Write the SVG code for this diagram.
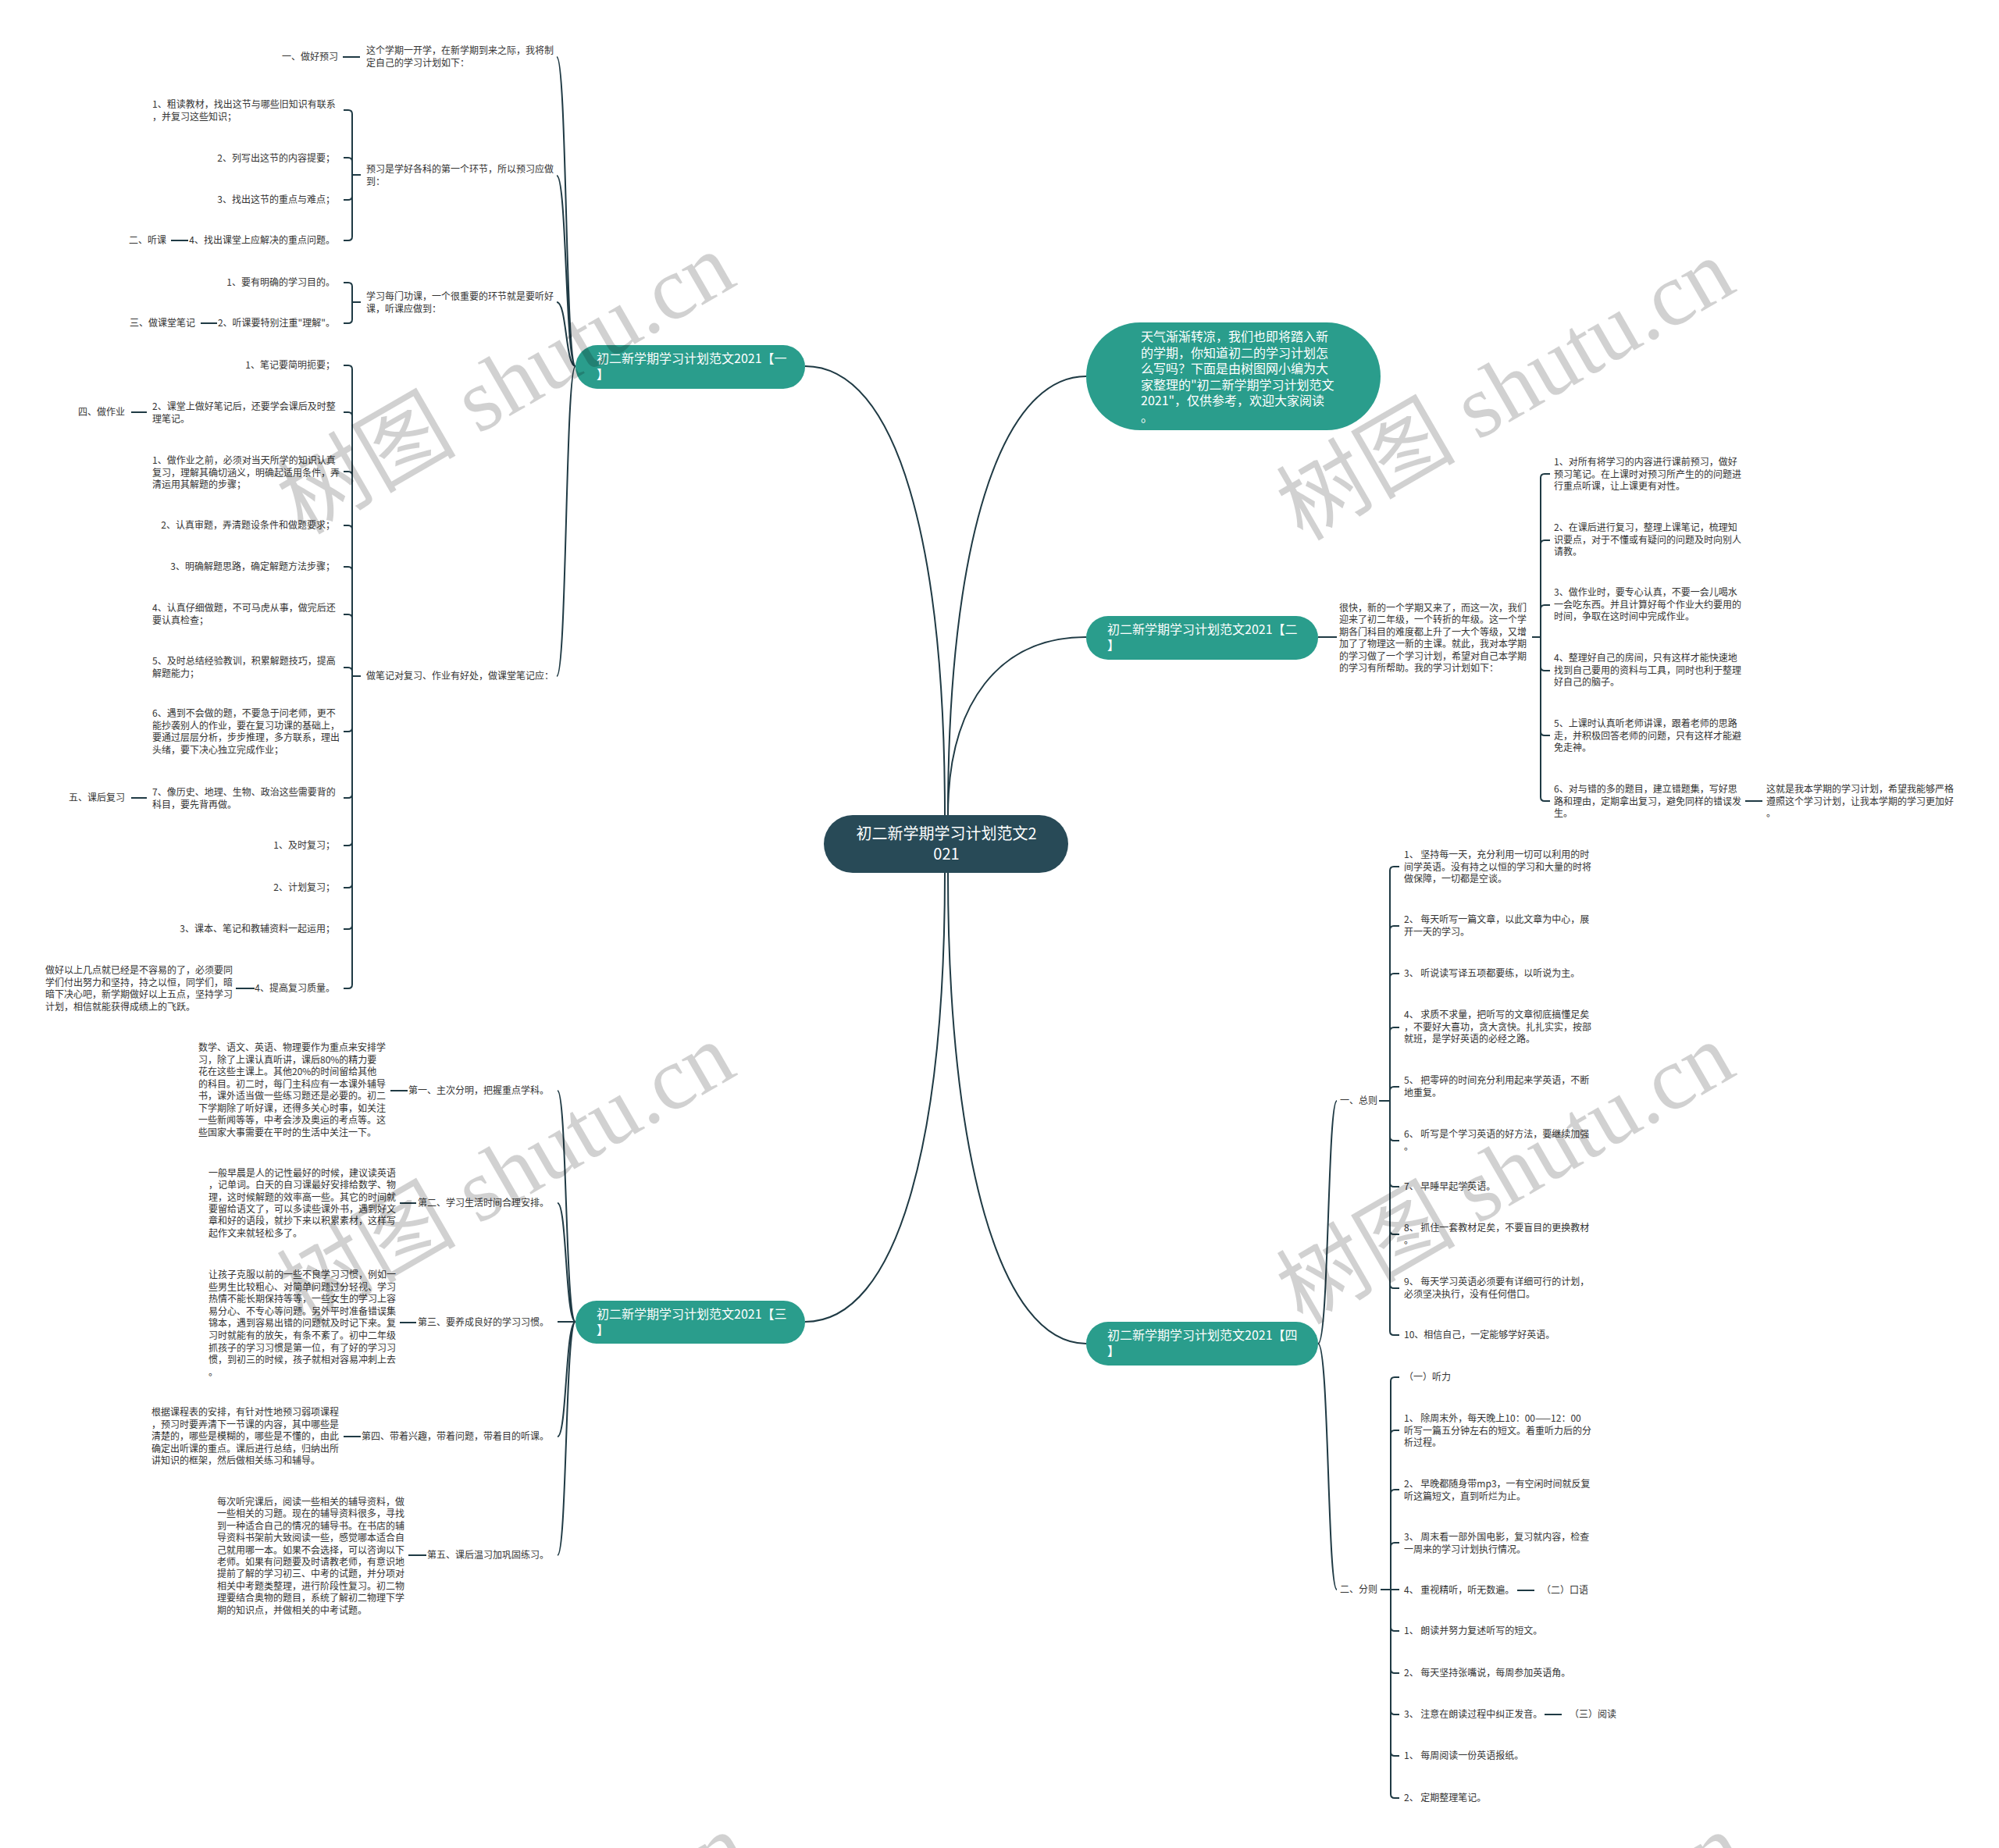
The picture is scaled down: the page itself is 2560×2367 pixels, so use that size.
<svg xmlns="http://www.w3.org/2000/svg" width="2560" height="2367" viewBox="0 0 2560 2367">
<style>
.t{font-family:"Noto Sans CJK SC","Noto Sans",sans-serif;font-size:12px;fill:#333}
.e{text-anchor:end}
.b{font-family:"Noto Sans CJK SC","Noto Sans",sans-serif;font-size:16px;fill:#fff}
.c{font-family:"Noto Sans CJK SC","Noto Sans",sans-serif;font-size:20px;fill:#fff;text-anchor:middle}
.ln{fill:none;stroke:#1f3a44;stroke-width:2}
.br{fill:#2a9d8c}
.wm{font-family:"Liberation Serif","Noto Sans CJK SC",serif;font-size:115px;fill:#000;fill-opacity:0.18}
</style>
<rect width="2560" height="2367" fill="#fff"/>
<g id="connectors">
<path class="ln" d="M1210,1044C1210,700 1150,469 1031,469"/>
<path class="ln" d="M1214,1044C1214,700 1280,482 1391,482"/>
<path class="ln" d="M1214,1044C1214,900 1280,816 1391,816"/>
<path class="ln" d="M1210,1118C1210,1460 1150,1693 1031,1693"/>
<path class="ln" d="M1214,1118C1214,1480 1280,1721 1391,1721"/>
<path class="ln" d="M737,469C724,469 726,73 713,73M737,469C724,469 726,225 713,225M737,469C724,469 726,387 713,387M737,469C724,469 726,866 713,866"/>
<path class="ln" d="M462,224H451V146Q451,141 446,141H440M462,224H451V207Q451,202 446,202H440M462,224H451V251Q451,256 446,256H440M462,224H451V303Q451,308 446,308H440"/>
<path class="ln" d="M462,387H451V367Q451,362 446,362H440M462,387H451V409Q451,414 446,414H440"/>
<path class="ln" d="M462,866H451V473Q451,468 446,468H440M462,866H451V533Q451,528 446,528H440M462,866H451V609Q451,604 446,604H440M462,866H451V678Q451,673 446,673H440M462,866H451V731Q451,726 446,726H440M462,866H451V792Q451,787 446,787H440M462,866H451V860Q451,855 446,855H440M462,866H451V932Q451,937 446,937H440M462,866H451V1017Q451,1022 446,1022H440M462,866H451V1078Q451,1083 446,1083H440M462,866H451V1132Q451,1137 446,1137H440M462,866H451V1185Q451,1190 446,1190H440M462,866H451V1261Q451,1266 446,1266H440"/>
<path class="ln" d="M439,73H461M219,308H241M257,414H278M168,528H188M168,1022H188M302,1266H326"/>
<path class="ln" d="M737,1693C724,1693 726,1397 714,1397M737,1693C724,1693 726,1541 714,1541M737,1693H714M737,1693C724,1693 726,1840 714,1840M737,1693C724,1693 726,1992 714,1992"/>
<path class="ln" d="M500,1397H522M512,1541H533M512,1694H533M440,1840H462M523,1992H546"/>
<path class="ln" d="M1688,816H1712"/>
<path class="ln" d="M1962,816H1973V612Q1973,607 1978,607H1985M1962,816H1973V697Q1973,692 1978,692H1985M1962,816H1973V780Q1973,775 1978,775H1985M1962,816H1973V854Q1973,859 1978,859H1985M1962,816H1973V937Q1973,942 1978,942H1985M1962,816H1973V1021Q1973,1026 1978,1026H1985"/>
<path class="ln" d="M2235,1026H2257"/>
<path class="ln" d="M1688,1721C1702,1721 1700,1410 1712,1410M1688,1721C1702,1721 1700,2036 1712,2036"/>
<path class="ln" d="M1766,1410H1780V1115Q1780,1110 1785,1110H1792M1766,1410H1780V1191Q1780,1186 1785,1186H1792M1766,1410H1780V1252Q1780,1247 1785,1247H1792M1766,1410H1780V1321Q1780,1316 1785,1316H1792M1766,1410H1780V1397Q1780,1392 1785,1392H1792M1766,1410H1780V1456Q1780,1461 1785,1461H1792M1766,1410H1780V1515Q1780,1520 1785,1520H1792M1766,1410H1780V1576Q1780,1581 1785,1581H1792M1766,1410H1780V1645Q1780,1650 1785,1650H1792M1766,1410H1780V1705Q1780,1710 1785,1710H1792"/>
<path class="ln" d="M1768,2036H1781V1769Q1781,1764 1786,1764H1792M1768,2036H1781V1837Q1781,1832 1786,1832H1792M1768,2036H1781V1913Q1781,1908 1786,1908H1792M1768,2036H1781V1981Q1781,1976 1786,1976H1792M1768,2036H1792M1768,2036H1781V2084Q1781,2089 1786,2089H1792M1768,2036H1781V2138Q1781,2143 1786,2143H1792M1768,2036H1781V2191Q1781,2196 1786,2196H1792M1768,2036H1781V2244Q1781,2249 1786,2249H1792M1768,2036H1781V2298Q1781,2303 1786,2303H1792"/>
<path class="ln" d="M1943,2037H1965M1978,2196H2000"/>
</g>
<g id="center">
<rect x="1055" y="1044" width="313" height="74" rx="37" fill="#284a57"/>
<text class="c" x="1212" y="1075">初二新学期学习计划范文2</text>
<text class="c" x="1212" y="1101">021</text>
</g>
<g id="intro">
<rect class="br" x="1391" y="413" width="377" height="138" rx="69"/>
<text class="b" x="1461" y="437">天气渐渐转凉，我们也即将踏入新<tspan x="1461" dy="20.6">的学期，你知道初二的学习计划怎</tspan><tspan x="1461" dy="20.6">么写吗？下面是由树图网小编为大</tspan><tspan x="1461" dy="20.6">家整理的"初二新学期学习计划范文</tspan><tspan x="1461" dy="20.6">2021"，仅供参考，欢迎大家阅读</tspan><tspan x="1461" dy="20.6">。</tspan></text>
</g>
<g id="branch1">
<rect class="br" x="737" y="442" width="294" height="56" rx="28"/>
<text class="b" x="764" y="465">初二新学期学习计划范文2021【一<tspan x="764" dy="20">】</tspan></text>
</g>
<g id="branch2">
<rect class="br" x="1391" y="789" width="297" height="56" rx="28"/>
<text class="b" x="1418" y="812">初二新学期学习计划范文2021【二<tspan x="1418" dy="20">】</tspan></text>
</g>
<g id="branch3">
<rect class="br" x="737" y="1666" width="294" height="55" rx="27.5"/>
<text class="b" x="764" y="1689">初二新学期学习计划范文2021【三<tspan x="764" dy="20">】</tspan></text>
</g>
<g id="branch4">
<rect class="br" x="1391" y="1693" width="297" height="56" rx="28"/>
<text class="b" x="1418" y="1716">初二新学期学习计划范文2021【四<tspan x="1418" dy="20">】</tspan></text>
</g>
<g id="b1-texts">
<text class="t" x="469" y="69">这个学期一开学，在新学期到来之际，我将制<tspan x="469" dy="16">定自己的学习计划如下：</tspan></text>
<text class="t e" x="433" y="77">一、做好预习</text>
<text class="t" x="469" y="221">预习是学好各科的第一个环节，所以预习应做<tspan x="469" dy="16">到：</tspan></text>
<text class="t" x="195" y="138">1、粗读教材，找出这节与哪些旧知识有联系<tspan x="195" dy="15.5">，并复习这些知识；</tspan></text>
<text class="t e" x="429" y="207">2、列写出这节的内容提要；</text>
<text class="t e" x="429" y="260">3、找出这节的重点与难点；</text>
<text class="t e" x="429" y="312">4、找出课堂上应解决的重点问题。</text>
<text class="t e" x="213" y="312">二、听课</text>
<text class="t" x="469" y="384">学习每门功课，一个很重要的环节就是要听好<tspan x="469" dy="15.5">课，听课应做到：</tspan></text>
<text class="t e" x="429" y="366">1、要有明确的学习目的。</text>
<text class="t e" x="429" y="418">2、听课要特别注重"理解"。</text>
<text class="t e" x="250" y="418">三、做课堂笔记</text>
<text class="t" x="469" y="870">做笔记对复习、作业有好处，做课堂笔记应：</text>
<text class="t e" x="429" y="472">1、笔记要简明扼要；</text>
<text class="t" x="195" y="525">2、课堂上做好笔记后，还要学会课后及时整<tspan x="195" dy="15.5">理笔记。</tspan></text>
<text class="t e" x="160" y="532">四、做作业</text>
<text class="t" x="195" y="594">1、做作业之前，必须对当天所学的知识认真<tspan x="195" dy="15.5">复习，理解其确切涵义，明确起适用条件，弄</tspan><tspan x="195" dy="15.5">清运用其解题的步骤；</tspan></text>
<text class="t e" x="429" y="677">2、认真审题，弄清题设条件和做题要求；</text>
<text class="t e" x="429" y="730">3、明确解题思路，确定解题方法步骤；</text>
<text class="t" x="195" y="783">4、认真仔细做题，不可马虎从事，做完后还<tspan x="195" dy="15.5">要认真检查；</tspan></text>
<text class="t" x="195" y="851">5、及时总结经验教训，积累解题技巧，提高<tspan x="195" dy="15.5">解题能力；</tspan></text>
<text class="t" x="195" y="918">6、遇到不会做的题，不要急于问老师，更不<tspan x="195" dy="15.5">能抄袭别人的作业，要在复习功课的基础上，</tspan><tspan x="195" dy="15.5">要通过层层分析，步步推理，多方联系，理出</tspan><tspan x="195" dy="15.5">头绪，要下决心独立完成作业；</tspan></text>
<text class="t" x="195" y="1019">7、像历史、地理、生物、政治这些需要背的<tspan x="195" dy="15.5">科目，要先背再做。</tspan></text>
<text class="t e" x="160" y="1026">五、课后复习</text>
<text class="t e" x="429" y="1087">1、及时复习；</text>
<text class="t e" x="429" y="1141">2、计划复习；</text>
<text class="t e" x="429" y="1194">3、课本、笔记和教辅资料一起运用；</text>
<text class="t e" x="429" y="1270">4、提高复习质量。</text>
<text class="t" x="58" y="1247">做好以上几点就已经是不容易的了，必须要同<tspan x="58" dy="15.5">学们付出努力和坚持，持之以恒，同学们，暗</tspan><tspan x="58" dy="15.5">暗下决心吧，新学期做好以上五点，坚持学习</tspan><tspan x="58" dy="15.5">计划，相信就能获得成绩上的飞跃。</tspan></text>
</g>
<g id="b3-texts">
<text class="t e" x="703" y="1401">第一、主次分明，把握重点学科。</text>
<text class="t" x="254" y="1346">数学、语文、英语、物理要作为重点来安排学<tspan x="254" dy="15.5">习，除了上课认真听讲，课后80%的精力要</tspan><tspan x="254" dy="15.5">花在这些主课上。其他20%的时间留给其他</tspan><tspan x="254" dy="15.5">的科目。初二时，每门主科应有一本课外辅导</tspan><tspan x="254" dy="15.5">书，课外适当做一些练习题还是必要的。初二</tspan><tspan x="254" dy="15.5">下学期除了听好课，还得多关心时事，如关注</tspan><tspan x="254" dy="15.5">一些新闻等等，中考会涉及奥运的考点等。这</tspan><tspan x="254" dy="15.5">些国家大事需要在平时的生活中关注一下。</tspan></text>
<text class="t e" x="703" y="1545">第二、学习生活时间合理安排。</text>
<text class="t" x="267" y="1507">一般早晨是人的记性最好的时候，建议读英语<tspan x="267" dy="15.3">，记单词。白天的自习课最好安排给数学、物</tspan><tspan x="267" dy="15.3">理，这时候解题的效率高一些。其它的时间就</tspan><tspan x="267" dy="15.3">要留给语文了，可以多读些课外书，遇到好文</tspan><tspan x="267" dy="15.3">章和好的语段，就抄下来以积累素材，这样写</tspan><tspan x="267" dy="15.3">起作文来就轻松多了。</tspan></text>
<text class="t e" x="703" y="1698">第三、要养成良好的学习习惯。</text>
<text class="t" x="267" y="1637">让孩子克服以前的一些不良学习习惯，例如一<tspan x="267" dy="15.6">些男生比较粗心、对简单问题过分轻视、学习</tspan><tspan x="267" dy="15.6">热情不能长期保持等等，一些女生的学习上容</tspan><tspan x="267" dy="15.6">易分心、不专心等问题。另外平时准备错误集</tspan><tspan x="267" dy="15.6">锦本，遇到容易出错的问题就及时记下来。复</tspan><tspan x="267" dy="15.6">习时就能有的放矢，有条不紊了。初中二年级</tspan><tspan x="267" dy="15.6">抓孩子的学习习惯是第一位，有了好的学习习</tspan><tspan x="267" dy="15.6">惯，到初三的时候，孩子就相对容易冲刺上去</tspan><tspan x="267" dy="15.6">。</tspan></text>
<text class="t e" x="703" y="1844">第四、带着兴趣，带着问题，带着目的听课。</text>
<text class="t" x="194" y="1813">根据课程表的安排，有针对性地预习弱项课程<tspan x="194" dy="15.5">，预习时要弄清下一节课的内容，其中哪些是</tspan><tspan x="194" dy="15.5">清楚的，哪些是模糊的，哪些是不懂的，由此</tspan><tspan x="194" dy="15.5">确定出听课的重点。课后进行总结，归纳出所</tspan><tspan x="194" dy="15.5">讲知识的框架，然后做相关练习和辅导。</tspan></text>
<text class="t e" x="703" y="1996">第五、课后温习加巩固练习。</text>
<text class="t" x="278" y="1928">每次听完课后，阅读一些相关的辅导资料，做<tspan x="278" dy="15.4">一些相关的习题。现在的辅导资料很多，寻找</tspan><tspan x="278" dy="15.4">到一种适合自己的情况的辅导书。在书店的辅</tspan><tspan x="278" dy="15.4">导资料书架前大致阅读一些，感觉哪本适合自</tspan><tspan x="278" dy="15.4">己就用哪一本。如果不会选择，可以咨询以下</tspan><tspan x="278" dy="15.4">老师。如果有问题要及时请教老师，有意识地</tspan><tspan x="278" dy="15.4">提前了解的学习初三、中考的试题，并分项对</tspan><tspan x="278" dy="15.4">相关中考题类整理，进行阶段性复习。初二物</tspan><tspan x="278" dy="15.4">理要结合奥物的题目，系统了解初二物理下学</tspan><tspan x="278" dy="15.4">期的知识点，并做相关的中考试题。</tspan></text>
</g>
<g id="b2-texts">
<text class="t" x="1715" y="783">很快，新的一个学期又来了，而这一次，我们<tspan x="1715" dy="15.4">迎来了初二年级，一个转折的年级。这一个学</tspan><tspan x="1715" dy="15.4">期各门科目的难度都上升了一大个等级，又增</tspan><tspan x="1715" dy="15.4">加了了物理这一新的主课。就此，我对本学期</tspan><tspan x="1715" dy="15.4">的学习做了一个学习计划，希望对自己本学期</tspan><tspan x="1715" dy="15.4">的学习有所帮助。我的学习计划如下：</tspan></text>
<text class="t" x="1990" y="596">1、对所有将学习的内容进行课前预习，做好<tspan x="1990" dy="15.5">预习笔记。在上课时对预习所产生的的问题进</tspan><tspan x="1990" dy="15.5">行重点听课，让上课更有对性。</tspan></text>
<text class="t" x="1990" y="680">2、在课后进行复习，整理上课笔记，梳理知<tspan x="1990" dy="15.5">识要点，对于不懂或有疑问的问题及时向别人</tspan><tspan x="1990" dy="15.5">请教。</tspan></text>
<text class="t" x="1990" y="763">3、做作业时，要专心认真，不要一会儿喝水<tspan x="1990" dy="15.5">一会吃东西。并且计算好每个作业大约要用的</tspan><tspan x="1990" dy="15.5">时间，争取在这时间中完成作业。</tspan></text>
<text class="t" x="1990" y="847">4、整理好自己的房间，只有这样才能快速地<tspan x="1990" dy="15.5">找到自己要用的资料与工具，同时也利于整理</tspan><tspan x="1990" dy="15.5">好自己的脑子。</tspan></text>
<text class="t" x="1990" y="931">5、上课时认真听老师讲课，跟着老师的思路<tspan x="1990" dy="15.5">走，并积极回答老师的问题，只有这样才能避</tspan><tspan x="1990" dy="15.5">免走神。</tspan></text>
<text class="t" x="1990" y="1015">6、对与错的多的题目，建立错题集，写好思<tspan x="1990" dy="15.5">路和理由，定期拿出复习，避免同样的错误发</tspan><tspan x="1990" dy="15.5">生。</tspan></text>
<text class="t" x="2262" y="1015">这就是我本学期的学习计划，希望我能够严格<tspan x="2262" dy="15.5">遵照这个学习计划，让我本学期的学习更加好</tspan><tspan x="2262" dy="15.5">。</tspan></text>
</g>
<g id="b4-texts">
<text class="t" x="1716" y="1414">一、总则</text>
<text class="t" x="1798" y="1099">1、 坚持每一天，充分利用一切可以利用的时<tspan x="1798" dy="15.5">间学英语。没有持之以恒的学习和大量的时将</tspan><tspan x="1798" dy="15.5">做保障，一切都是空谈。</tspan></text>
<text class="t" x="1798" y="1182">2、 每天听写一篇文章，以此文章为中心，展<tspan x="1798" dy="15.5">开一天的学习。</tspan></text>
<text class="t" x="1798" y="1251">3、 听说读写译五项都要练，以听说为主。</text>
<text class="t" x="1798" y="1304">4、 求质不求量，把听写的文章彻底搞懂足矣<tspan x="1798" dy="15.5">，不要好大喜功，贪大贪快。扎扎实实，按部</tspan><tspan x="1798" dy="15.5">就班，是学好英语的必经之路。</tspan></text>
<text class="t" x="1798" y="1388">5、 把零碎的时间充分利用起来学英语，不断<tspan x="1798" dy="15.5">地重复。</tspan></text>
<text class="t" x="1798" y="1457">6、 听写是个学习英语的好方法，要继续加强<tspan x="1798" dy="15.5">。</tspan></text>
<text class="t" x="1798" y="1524">7、 早睡早起学英语。</text>
<text class="t" x="1798" y="1577">8、 抓住一套教材足矣，不要盲目的更换教材<tspan x="1798" dy="15.5">。</tspan></text>
<text class="t" x="1798" y="1646">9、 每天学习英语必须要有详细可行的计划，<tspan x="1798" dy="15.5">必须坚决执行，没有任何借口。</tspan></text>
<text class="t" x="1798" y="1714">10、相信自己，一定能够学好英语。</text>
<text class="t" x="1716" y="2040">二、分则</text>
<text class="t" x="1798" y="1768">（一）听力</text>
<text class="t" x="1798" y="1821">1、 除周末外，每天晚上10：00——12：00<tspan x="1798" dy="15.5">听写一篇五分钟左右的短文。着重听力后的分</tspan><tspan x="1798" dy="15.5">析过程。</tspan></text>
<text class="t" x="1798" y="1905">2、 早晚都随身带mp3，一有空闲时间就反复<tspan x="1798" dy="15.5">听这篇短文，直到听烂为止。</tspan></text>
<text class="t" x="1798" y="1973">3、 周末看一部外国电影，复习就内容，检查<tspan x="1798" dy="15.5">一周来的学习计划执行情况。</tspan></text>
<text class="t" x="1798" y="2041">4、 重视精听，听无数遍。</text>
<text class="t" x="1974" y="2041">（二）口语</text>
<text class="t" x="1798" y="2093">1、 朗读并努力复述听写的短文。</text>
<text class="t" x="1798" y="2147">2、 每天坚持张嘴说，每周参加英语角。</text>
<text class="t" x="1798" y="2200">3、 注意在朗读过程中纠正发音。</text>
<text class="t" x="2010" y="2200">（三）阅读</text>
<text class="t" x="1798" y="2253">1、 每周阅读一份英语报纸。</text>
<text class="t" x="1798" y="2307">2、 定期整理笔记。</text>
</g>
<g id="watermarks">
<text class="wm" transform="translate(388,686) rotate(-30)">树图 shutu.cn</text>
<text class="wm" transform="translate(1668,694) rotate(-30)">树图 shutu.cn</text>
<text class="wm" transform="translate(388,1698) rotate(-30)">树图 shutu.cn</text>
<text class="wm" transform="translate(1668,1698) rotate(-30)">树图 shutu.cn</text>
<text class="wm" transform="translate(405,2710) rotate(-30)">树图 shutu.cn</text>
<text class="wm" transform="translate(1680,2710) rotate(-30)">树图 shutu.cn</text>
</g>
</svg>
